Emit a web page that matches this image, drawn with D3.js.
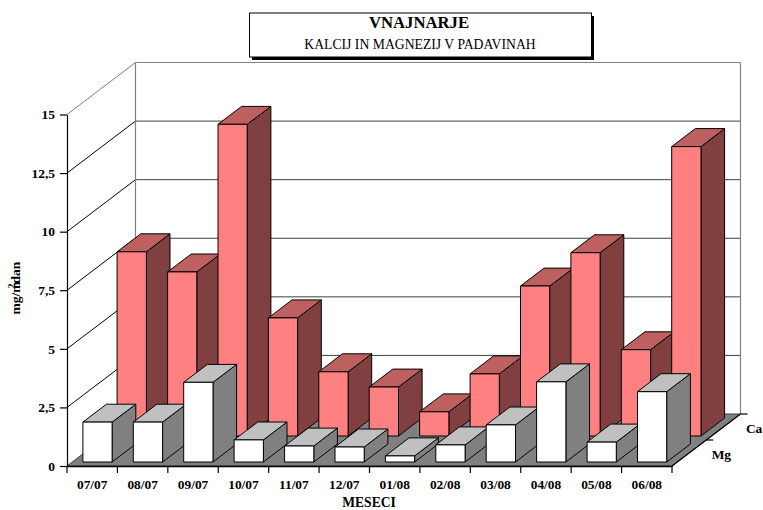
<!DOCTYPE html>
<html><head><meta charset="utf-8">
<script src="https://cdn.jsdelivr.net/npm/d3@7/dist/d3.min.js"></script>
<style>html,body{margin:0;padding:0;background:#fff}svg{display:block}
text{font-family:"Liberation Serif","Times New Roman",serif;fill:#000}</style>
</head><body><svg id="c" width="763" height="510"></svg>
<script>
const categories=["07/07","08/07","09/07","10/07","11/07","12/07","01/08","02/08","03/08","04/08","05/08","06/08"];
const seriesNames=["Mg","Ca"];
const ca=[7.86,7.0,13.3,5.04,2.74,2.09,1.03,2.65,6.4,7.82,3.68,12.35];
const mg=[1.7,1.7,3.4,0.94,0.68,0.64,0.26,0.73,1.58,3.42,0.85,3.0];
const yTicks=[0,2.5,5,7.5,10,12.5,15];

const svg=d3.select("#c");
const x=d3.scaleBand().domain(categories).range([67,672]).paddingInner(.42).paddingOuter(.21);
const xStep=d3.scaleBand().domain(categories).range([67,672]);
const y=d3.scaleLinear().domain([0,15]).range([466,114.5]);
const depth=d3.scaleBand().domain(seriesNames).range([0,1]).paddingInner(.31).paddingOuter(.155);
const depthFull=d3.scaleBand().domain(seriesNames).range([0,1]);
const DX=68.5,DY=-52;
const px=(X,d)=>X+d*DX, py=(Y,d)=>Y+d*DY;
const pt=(X,Y,d)=>[px(X,d),py(Y,d)];
const poly=(g,pts,fill,stroke="#000",sw=1)=>g.append("polygon").attr("points",pts.map(p=>p.map(v=>v.toFixed(1)).join(",")).join(" ")).attr("fill",fill).attr("stroke",stroke).attr("stroke-width",sw).attr("stroke-linejoin","round");
const line=(g,a,b,stroke,sw=1)=>g.append("line").attr("x1",a[0]).attr("y1",a[1]).attr("x2",b[0]).attr("y2",b[1]).attr("stroke",stroke).attr("stroke-width",sw);

const [x0,x1]=x.range(), y0=y(0);
const gWall=svg.append("g");
poly(gWall,[[x0,y0],[x1,y0],pt(x1,y0,1),pt(x0,y0,1)],"#808080","#404040");
yTicks.forEach(t=>{
  const c=t===15?"#808080":"#000";
  if(t>0) line(gWall,pt(x0,y(t),0),pt(x0,y(t),1),c,1);
  if(t>0) line(gWall,pt(x0,y(t),1),pt(x1,y(t),1),t===15?"#808080":"#404040",1);
});
line(gWall,pt(x0,y(0),1),pt(x0,y(15),1),"#808080",1.2);
line(gWall,pt(x1,y(0),1),pt(x1,y(15),1),"#808080",1.2);

function bars(name,vals,front,top,side){
  const g=svg.append("g");
  const d0=depth(name), d1=d0+depth.bandwidth();
  categories.forEach((c,i)=>{
    const a=x(c), b=a+x.bandwidth(), v=y(vals[i]);
    poly(g,[pt(b,y0,d0),pt(b,y0,d1),pt(b,v,d1),pt(b,v,d0)],side);
    poly(g,[pt(a,v,d0),pt(b,v,d0),pt(b,v,d1),pt(a,v,d1)],top);
    poly(g,[pt(a,y0,d0),pt(b,y0,d0),pt(b,v,d0),pt(a,v,d0)],front);
  });
}
bars("Ca",ca,"#ff8080","#bf6060","#804040");
bars("Mg",mg,"#ffffff","#c0c0c0","#808080");

const fmt=d=>String(d).replace(".",",");
const gy=svg.append("g").attr("transform",`translate(${x0},0)`)
 .call(d3.axisLeft(y).tickValues(yTicks).tickFormat(fmt).tickSize(7).tickSizeOuter(0));
gy.selectAll("text").attr("font-size",13.5).attr("font-weight","bold").style("font-family",'"Liberation Serif"').attr("dx",-2);
gy.selectAll("line,path").attr("stroke","#000").attr("stroke-width",1.2);

const gx=svg.append("g").attr("transform",`translate(0,${y0})`)
 .call(d3.axisBottom(x).tickSize(0).tickPadding(13));
gx.selectAll("text").attr("font-size",13.4).attr("font-weight","bold").style("font-family",'"Liberation Serif"');
gx.select("path").attr("stroke","#000").attr("stroke-width",1.4);
const gxt=svg.append("g");
categories.forEach(c=>line(gxt,[xStep(c),y0],[xStep(c),y0+7],"#000",1.2));
line(gxt,[x1,y0],[x1,y0+7],"#000",1.2);

const gz=svg.append("g");
line(gz,pt(x1,y0,0),pt(x1,y0,1),"#000",1.2);
seriesNames.forEach(s=>{
  const d=depthFull(s)+depthFull.bandwidth();
  line(gz,pt(x1,y0,d),[px(x1,d)+7,py(y0,d)],"#000",1.2);
  const m=d-depthFull.bandwidth()/2;
  gz.append("text").attr("x",px(x1,m)+22.5).attr("y",py(y0,m)+6)
    .attr("font-size",13.5).attr("font-weight","bold").text(s);
});

svg.append("text").attr("x",369).attr("y",507).attr("text-anchor","middle").attr("font-size",13.6).attr("font-weight","bold").text("MESECI");
const yl=svg.append("text").attr("transform","translate(20,288) rotate(-90)").attr("text-anchor","middle").attr("font-size",13.5).attr("font-weight","bold");
yl.append("tspan").text("mg/m");
yl.append("tspan").attr("dy",-5).attr("font-size",10).attr("dx",-7).text("2");
yl.append("tspan").attr("dy",5).text("dan");

svg.append("rect").attr("x",252).attr("y",16).attr("width",342).attr("height",44).attr("fill","#000");
svg.append("rect").attr("x",249.5).attr("y",13).attr("width",342).attr("height",44).attr("fill","#fff").attr("stroke","#000").attr("stroke-width",1);
svg.append("text").attr("x",419).attr("y",28).attr("text-anchor","middle").attr("font-size",16.7).attr("font-weight","bold").text("VNAJNARJE");
svg.append("text").attr("x",420).attr("y",48.5).attr("text-anchor","middle").attr("font-size",13.7).text("KALCIJ IN MAGNEZIJ V PADAVINAH");
</script></body></html>
